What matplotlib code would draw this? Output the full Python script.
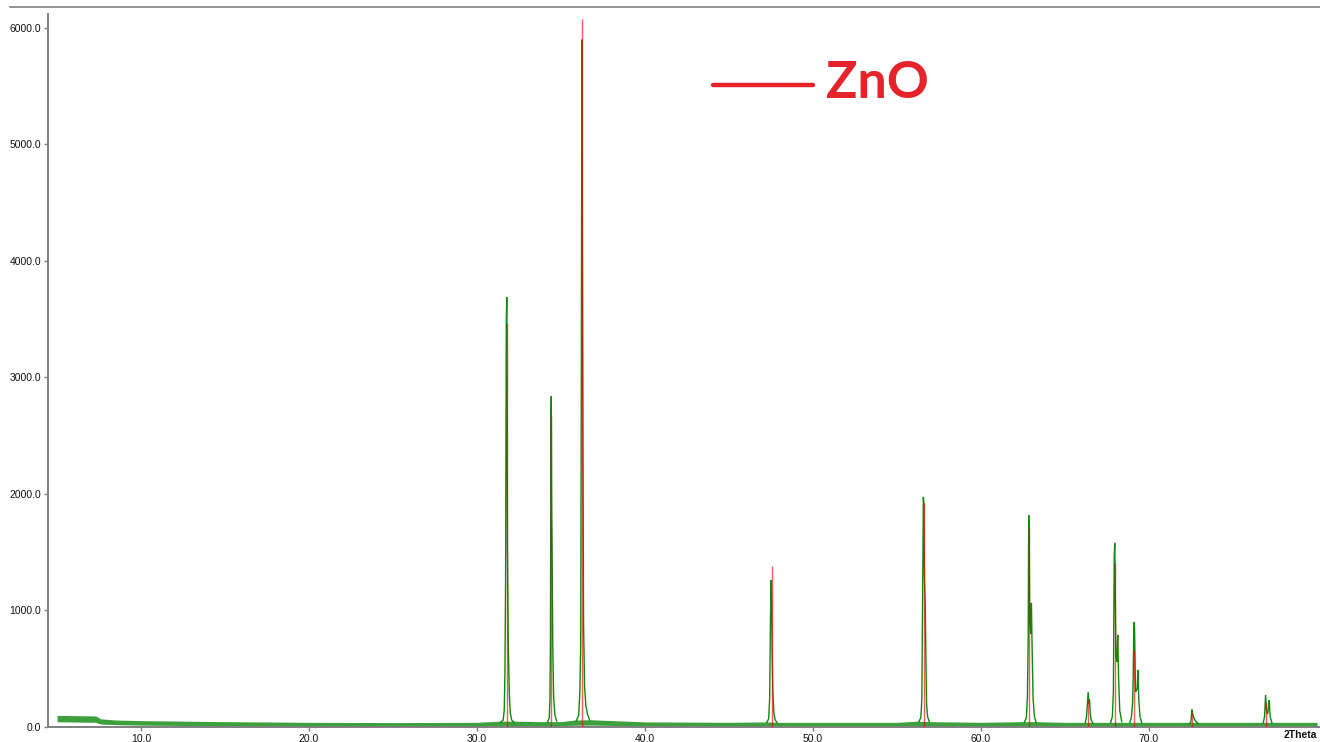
import matplotlib
matplotlib.use("Agg")
import matplotlib.pyplot as plt
from matplotlib.lines import Line2D

# ZnO reference stick pattern (2-theta, counts)
ref_2theta = [31.77, 34.42, 36.25, 47.54, 56.60, 62.86, 66.38, 67.96, 69.10, 72.56, 76.95]
ref_counts = [3470, 2670, 6080, 1385, 1930, 1710, 240, 1415, 660, 120, 215]

# Measured profile around each reflection (2-theta, counts)
peak_100_x = [31.40, 31.56, 31.62, 31.66, 31.70, 31.74, 31.77, 31.79, 31.81, 31.86, 31.92, 31.98, 32.06, 32.20]
peak_100_y = [40, 60, 150, 460, 1260, 3450, 3690, 2810, 1545, 700, 290, 120, 60, 40]

peak_002_x = [34.20, 34.30, 34.34, 34.37, 34.40, 34.42, 34.44, 34.47, 34.51, 34.56, 34.64, 34.74]
peak_002_y = [40, 80, 250, 750, 2660, 2840, 1950, 1490, 690, 250, 100, 50]

peak_101_x = [35.90, 36.05, 36.12, 36.17, 36.21, 36.24, 36.27, 36.30, 36.34, 36.40, 36.48, 36.58, 36.70]
peak_101_y = [50, 100, 300, 700, 3120, 5900, 4350, 2760, 900, 350, 180, 110, 60]

peak_102_x = [47.25, 47.36, 47.42, 47.47, 47.51, 47.54, 47.57, 47.61, 47.67, 47.75, 47.85]
peak_102_y = [40, 70, 250, 950, 1260, 1050, 620, 300, 120, 60, 40]

peak_110_x = [56.30, 56.42, 56.48, 56.53, 56.57, 56.60, 56.63, 56.68, 56.72, 56.76, 56.82, 56.92]
peak_110_y = [45, 80, 250, 1220, 1975, 1900, 1300, 1050, 600, 200, 90, 45]

peak_103_x = [62.58, 62.70, 62.76, 62.81, 62.84, 62.87, 62.90, 62.96, 63.00, 63.04, 63.10, 63.18, 63.28]
peak_103_y = [40, 80, 250, 760, 1820, 1650, 900, 800, 1065, 700, 250, 90, 40]

peak_200_x = [66.20, 66.27, 66.32, 66.38, 66.42, 66.46, 66.50, 66.56, 66.66]
peak_200_y = [35, 80, 170, 300, 200, 235, 120, 60, 35]

peak_112_x = [67.72, 67.82, 67.88, 67.93, 67.96, 67.99, 68.03, 68.09, 68.14, 68.19, 68.26, 68.38]
peak_112_y = [40, 90, 300, 1450, 1580, 1180, 600, 560, 790, 420, 140, 45]

peak_201_x = [68.86, 68.95, 69.02, 69.06, 69.10, 69.14, 69.20, 69.30, 69.34, 69.39, 69.46, 69.56]
peak_201_y = [40, 80, 200, 430, 900, 850, 300, 330, 490, 250, 90, 40]

peak_004_x = [72.42, 72.50, 72.55, 72.58, 72.62, 72.68, 72.78, 72.92]
peak_004_y = [30, 45, 150, 125, 100, 75, 50, 30]

peak_202_x = [76.80, 76.88, 76.94, 76.99, 77.06, 77.12, 77.16, 77.21, 77.32]
peak_202_y = [35, 90, 275, 150, 110, 180, 230, 90, 35]

peak_profiles = [
    (peak_100_x, peak_100_y), (peak_002_x, peak_002_y), (peak_101_x, peak_101_y),
    (peak_102_x, peak_102_y), (peak_110_x, peak_110_y), (peak_103_x, peak_103_y),
    (peak_200_x, peak_200_y), (peak_112_x, peak_112_y), (peak_201_x, peak_201_y),
    (peak_004_x, peak_004_y), (peak_202_x, peak_202_y),
]

# Background noise band (lower / upper envelope)
bg_2theta = [5.0, 7.3, 7.6, 8.5, 10, 15, 20, 25, 30, 31.3, 32.2, 34.0, 35.0, 35.8, 36.8,
             40, 45, 47.2, 48, 50, 55, 56.2, 57.0, 60, 62.4, 63.3, 65, 70, 75, 80]
bg_low = [45, 40, 25, 20, 16, 10, 7, 7, 7, 12, 12, 12, 12, 15, 16,
          9, 7, 9, 7, 7, 7, 9, 9, 7, 9, 9, 7, 7, 7, 7]
bg_high = [100, 95, 70, 60, 55, 46, 40, 38, 40, 50, 50, 46, 46, 60, 62,
           44, 40, 44, 40, 40, 40, 50, 46, 40, 46, 46, 40, 40, 40, 40]

x_ticks = [10, 20, 30, 40, 50, 60, 70]
y_ticks = [0, 1000, 2000, 3000, 4000, 5000, 6000]

W, H = 1320, 742
fig = plt.figure(figsize=(W / 100, H / 100), dpi=100)
ax = fig.add_axes([48 / W, 15 / H, 1 - 48 / W, 713 / H])

green = "#0b8a0b"
ax.fill_between(bg_2theta, bg_low, bg_high, color=green, lw=0, alpha=0.8, zorder=2)
for px, py in peak_profiles:
    ax.plot(px, py, color=green, lw=1.0, zorder=3, solid_joinstyle="miter")
ax.vlines(ref_2theta, 0, ref_counts, color="red", lw=1.0, alpha=0.65, zorder=4)

ax.set_xlim(4.46, 80.18)
ax.set_ylim(0, 6120)
ax.set_xticks(x_ticks)
ax.set_xticklabels([f"{v:.1f}" for v in x_ticks])
ax.set_yticks(y_ticks)
ax.set_yticklabels([f"{v:.1f}" for v in y_ticks])

for side in ("top", "right"):
    ax.spines[side].set_visible(False)
for side in ("left", "bottom"):
    ax.spines[side].set_color("#7f7f7f")
    ax.spines[side].set_linewidth(1.4)
ax.tick_params(axis="both", length=3, width=1, color="#7f7f7f",
               labelsize=7.5, labelcolor="#111111", pad=2)
for lab in ax.get_xticklabels() + ax.get_yticklabels():
    lab.set_family("Liberation Sans")

fig.text(1284 / W, 2 / H, "2Theta", fontsize=7.5, fontweight="bold",
         family="Liberation Sans", color="#111111", ha="left", va="bottom")

# frame line across the top
fig.add_artist(Line2D([10 / W, 1.0], [1 - 7 / H, 1 - 7 / H], color="#7f7f7f", lw=1.2))

# legend entry
red = "#e5232b"
fig.add_artist(Line2D([713 / W, 813 / W], [1 - 85 / H, 1 - 85 / H], color=red, lw=3.2,
                      solid_capstyle="round"))
fig.text(826 / W, 1 - 83 / H, "ZnO", fontsize=37.5, fontweight="bold", family="Lato",
         color=red, ha="left", va="center")

fig.savefig("out.png", dpi=100)
